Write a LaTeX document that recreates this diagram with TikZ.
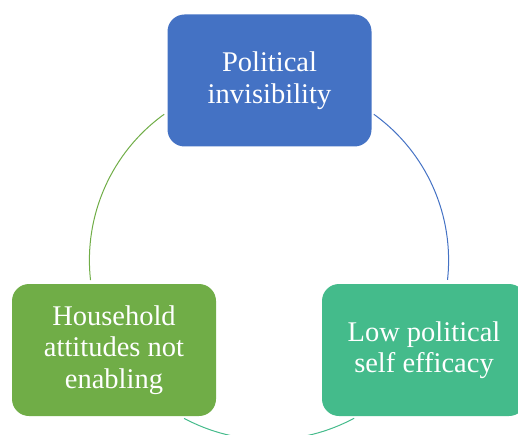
\documentclass[tikz,border=0pt]{standalone}
\usepackage{fontspec}
\setmainfont{Liberation Serif}
\definecolor{cblue}{HTML}{4472C4}
\definecolor{cgreen}{HTML}{70AD47}
\definecolor{cteal}{HTML}{44BB8B}
\begin{document}
\begin{tikzpicture}[x=1pt,y=1pt,
  box/.style={rounded corners=17pt, minimum width=204pt, minimum height=132pt,
    text=white, align=center, inner sep=0pt,
    font=\fontsize{28.5}{31.5}\selectfont},
  link/.style={line width=1pt}]
\useasboundingbox (0,0) rectangle (518,434);
\node[box, fill=cblue] (top) at (269.5,353.5) {Political\\invisibility};
\node[box, fill=cgreen] (left) at (114,84) {Household\\attitudes not\\enabling};
\node[box, fill=cteal] (right) at (424,84) {Low political\\self efficacy};
\coordinate (c) at (269,173.9);
\draw[link, cgreen] ([shift={(125.7:179.6)}]c) arc (125.7:186.4:179.6);
\draw[link, cblue] ([shift={(54.3:179.6)}]c) arc (54.3:-6.3:179.6);
\draw[link, cteal] ([shift={(241.8:179.6)}]c) arc (241.8:298.3:179.6);
\end{tikzpicture}
\end{document}
